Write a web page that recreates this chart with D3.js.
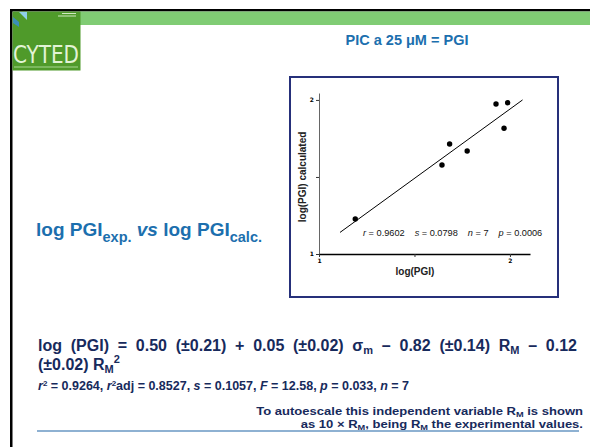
<!DOCTYPE html>
<html>
<head>
<meta charset="utf-8">
<script src="https://cdn.jsdelivr.net/npm/d3@7"></script>
<style>
  body { margin: 0; background: #fff; }
  svg { display: block; font-family: 'Liberation Sans', Arial, sans-serif; }
</style>
</head>
<body>
<div id="slide"></div>
<script>
var xObs = [1.19, 1.644, 1.684, 1.776, 1.927, 1.988, 1.969]
var yCalc = [1.227, 1.578, 1.714, 1.669, 1.974, 1.982, 1.816]
// regression line end points (data units)
var fitX = [1.11, 2.066]
var fitY = [1.14, 2.0]
var xTicks = [1, 1.5, 2]
var yTicks = [1, 1.5, 2]
var tickLabels = { 1: '1', 1.5: '', 2: '2' }

var W = 590, H = 447
var svg = d3.select('#slide').append('svg')
  .attr('width', W).attr('height', H)

// slide frame: black lines + green bar
svg.append('rect').attr('x', 10).attr('y', 9).attr('width', W - 10).attr('height', 2.5).attr('fill', '#000')
svg.append('rect').attr('x', 10).attr('y', 9).attr('width', 2.5).attr('height', H - 9).attr('fill', '#000')
svg.append('rect').attr('x', 80).attr('y', 11.5).attr('width', W - 80).attr('height', 13.5).attr('fill', '#80cc74')

// logo
var logo = svg.append('g')
logo.append('rect').attr('x', 12.5).attr('y', 11.5).attr('width', 68).attr('height', 59).attr('fill', '#4f9a2a')
logo.append('path').attr('d', 'M19,12 L27,12 L27,20 Z').attr('fill', '#8fd0ea')
logo.append('path').attr('d', 'M13,17 L19,22 L19,27 L13,23 Z').attr('fill', '#3b8fb8')
logo.append('rect').attr('x', 62).attr('y', 13).attr('width', 14).attr('height', 1).attr('fill', '#cfe8c0')
logo.append('rect').attr('x', 58).attr('y', 15.5).attr('width', 18).attr('height', 1).attr('fill', '#cfe8c0')
logo.append('text').attr('x', 13).attr('y', 63)
  .attr('textLength', 66).attr('lengthAdjust', 'spacingAndGlyphs')
  .style('font-family', "'Liberation Sans Narrow', 'DejaVu Sans Condensed', sans-serif")
  .style('font-size', '25px').attr('fill', '#e2f3d6').text('CYTED')
logo.append('rect').attr('x', 14).attr('y', 66.5).attr('width', 64).attr('height', 1).attr('fill', '#a8d590')

// title
svg.append('text').attr('x', 407).attr('y', 45).attr('text-anchor', 'middle')
  .style('font-size', '14.5px').style('font-weight', 'bold').attr('fill', '#1c6fae')
  .text('PIC a 25 \u03bcM = PGI')

// left label
var lab = svg.append('text').attr('x', 36).attr('y', 236)
  .style('font-weight', 'bold').attr('fill', '#1c6fae').style('font-size', '19px')
lab.append('tspan').text('log PGI')
lab.append('tspan').attr('dy', 6).style('font-size', '14.5px').text('exp.')
lab.append('tspan').attr('dy', -6).style('font-style', 'italic').text(' vs ')
lab.append('tspan').text('log PGI')
lab.append('tspan').attr('dy', 6).style('font-size', '14.5px').text('calc.')

// chart frame
svg.append('rect').attr('x', 290).attr('y', 77).attr('width', 268).attr('height', 220)
  .attr('fill', '#fff').attr('stroke', '#26307a').attr('stroke-width', 2)

var x = d3.scaleLinear().domain([1, 2.105]).range([319, 530])
var y = d3.scaleLinear().domain([1, 2.045]).range([254, 93])

var xAxis = d3.axisBottom(x).tickValues(xTicks).tickSize(3).tickSizeOuter(0)
  .tickFormat(function (d) { return tickLabels[d] })
var yAxis = d3.axisLeft(y).tickValues(yTicks).tickSize(3).tickSizeOuter(0)
  .tickFormat(function (d) { return tickLabels[d] })

var gy = svg.append('g').attr('transform', 'translate(319,0)').call(yAxis)
gy.select('.domain').attr('stroke', '#666').attr('stroke-width', 1)
gy.selectAll('.tick line').attr('stroke', '#333')
gy.selectAll('.tick text').attr('x', -5).style('font-size', '6px').style('font-weight', 'bold')
  .style('font-family', "'DejaVu Sans', sans-serif")

var gx = svg.append('g').attr('transform', 'translate(0,254)').call(xAxis)
gx.select('.domain').attr('stroke', '#000').attr('stroke-width', 1.5)
gx.selectAll('.tick line').attr('stroke', '#333')
gx.selectAll('.tick text').attr('y', 5).style('font-size', '6px').style('font-weight', 'bold')
  .style('font-family', "'DejaVu Sans', sans-serif")

// axis titles
svg.append('text').attr('x', 415).attr('y', 275).attr('text-anchor', 'middle')
  .style('font-size', '10px').style('font-weight', 'bold').attr('fill', '#222')
  .text('log(PGI)')
svg.append('text').attr('transform', 'translate(306,' + y(1.5) + ') rotate(-90)')
  .attr('text-anchor', 'middle')
  .style('font-size', '10px').style('font-weight', 'bold').attr('fill', '#222')
  .text('log(PGI) calculated')

// fit line
svg.append('path')
  .datum(fitX.map(function (v, i) { return [v, fitY[i]] }))
  .attr('d', d3.line().x(function (d) { return x(d[0]) }).y(function (d) { return y(d[1]) }))
  .attr('stroke', '#000').attr('stroke-width', 1).attr('fill', 'none')

// points
svg.selectAll('circle.pt')
  .data(xObs.map(function (v, i) { return { x: v, y: yCalc[i] } }))
  .enter().append('circle').attr('class', 'pt')
  .attr('cx', function (d) { return x(d.x) })
  .attr('cy', function (d) { return y(d.y) })
  .attr('r', 2.7).attr('fill', '#000')

// stats inside plot
var st = svg.append('text').attr('x', 363).attr('y', 236)
  .style('font-size', '9.2px').attr('fill', '#111')
var stats = [['r', ' = 0.9602'], ['s', ' = 0.0798'], ['n', ' = 7'], ['p', ' = 0.0006']]
stats.forEach(function (s, i) {
  st.append('tspan').attr('dx', i ? 10 : 0).style('font-style', 'italic').text(s[0])
  st.append('tspan').text(s[1])
})

// equation, justified over its width
var navy = '#172a5c'
var eq1 = svg.append('text').attr('x', 38).attr('y', 351)
  .style('font-size', '16px').style('font-weight', 'bold').attr('fill', navy)
eq1.append('tspan').text('log (PGI) = 0.50 (\u00b10.21) + 0.05 (\u00b10.02) \u03c3')
eq1.append('tspan').attr('dy', 3).style('font-size', '11px').text('m')
eq1.append('tspan').attr('dy', -3).text(' \u2013 0.82 (\u00b10.14) R')
eq1.append('tspan').attr('dy', 3).style('font-size', '11px').text('M')
eq1.append('tspan').attr('dy', -3).text(' \u2013 0.12')
var natural = eq1.node().getComputedTextLength()
eq1.style('word-spacing', ((577 - 38 - natural) / 14) + 'px')

var eq2 = svg.append('text').attr('x', 38).attr('y', 370)
  .style('font-size', '16px').style('font-weight', 'bold').attr('fill', navy)
eq2.append('tspan').text('(\u00b10.02) R')
eq2.append('tspan').attr('dy', 3).style('font-size', '11px').text('M')
eq2.append('tspan').attr('dy', -10).style('font-size', '11px').text('2')

// fit statistics: [text, style, dy]
var s3 = svg.append('text').attr('x', 38).attr('y', 390)
  .style('font-size', '12.5px').style('font-weight', 'bold').attr('fill', navy)
var parts = [['r', 'i', 0], ['2', 's', -4], [' = 0.9264, ', '', 4], ['r', 'i', 0], ['2', 's', -4],
  ['adj = 0.8527, ', '', 4], ['s', 'i', 0], [' = 0.1057, ', '', 0], ['F', 'i', 0],
  [' = 12.58, ', '', 0], ['p', 'i', 0], [' = 0.033, ', '', 0], ['n', 'i', 0], [' = 7', '', 0]]
parts.forEach(function (p) {
  var t = s3.append('tspan').attr('dy', p[2]).text(p[0])
  if (p[1] === 'i') t.style('font-style', 'italic')
  if (p[1] === 's') t.style('font-size', '8px')
})

// note, slightly stretched horizontally as on the slide
var notes = svg.append('g').attr('transform', 'translate(583,0) scale(1.23,1)')
var note1 = notes.append('text').attr('x', 0).attr('y', 415.5).attr('text-anchor', 'end')
  .style('font-size', '10.6px').style('font-weight', 'bold').attr('fill', navy)
note1.append('tspan').text('To autoescale this independent variable R')
note1.append('tspan').attr('dy', 2).style('font-size', '7.5px').text('M')
note1.append('tspan').attr('dy', -2).text(' is shown')

var note2 = notes.append('text').attr('x', 0).attr('y', 428).attr('text-anchor', 'end')
  .style('font-size', '10.6px').style('font-weight', 'bold').attr('fill', navy)
note2.append('tspan').text('as 10 \u00d7 R')
note2.append('tspan').attr('dy', 2).style('font-size', '7.5px').text('M')
note2.append('tspan').attr('dy', -2).text(', being R')
note2.append('tspan').attr('dy', 2).style('font-size', '7.5px').text('M')
note2.append('tspan').attr('dy', -2).text(' the experimental values.')

svg.append('line').attr('x1', 37).attr('x2', 579).attr('y1', 431).attr('y2', 431)
  .attr('stroke', '#1f64a6').attr('stroke-width', 1.2)
</script>
</body>
</html>
